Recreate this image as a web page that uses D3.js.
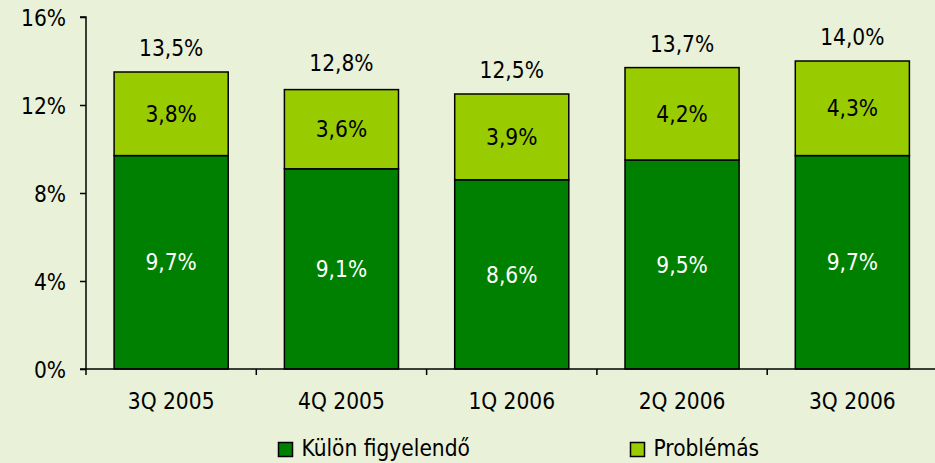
<!DOCTYPE html>
<html><head><meta charset="utf-8">
<script src="https://cdn.jsdelivr.net/npm/d3@7"></script>
<style>
html,body{margin:0;padding:0;background:#E9F1D8;}
svg{display:block;font-family:"DejaVu Sans Condensed","DejaVu Sans",sans-serif;}
</style></head><body>
<svg id="c" width="935" height="463"></svg>
<script>
const categories = ["3Q 2005","4Q 2005","1Q 2006","2Q 2006","3Q 2006"];
const kulon = [9.7, 9.1, 8.6, 9.5, 9.7];
const problemas = [3.8, 3.6, 3.9, 4.2, 4.3];
const totals = [13.5, 12.8, 12.5, 13.7, 14.0];
const yTicks = [0, 4, 8, 12, 16];
const seriesNames = ["Külön figyelendő", "Problémás"];
const colors = ["#008000", "#99CC00"];

(function(){
const FS = 22.5;
const svg = d3.select("#c");
const mLeft = 86, mRight = 937.5, mTop = 17, mBottom = 369;
const x = d3.scaleBand().domain(categories).range([mLeft, mRight]).paddingInner(0.33).paddingOuter(0.165);
const y = d3.scaleLinear().domain([0, 16]).range([mBottom, mTop]);
const fmt = v => v.toFixed(1).replace(".", ",") + "%";

const g = svg.append("g");
categories.forEach((c, i) => {
  const x0 = x(c), w = x.bandwidth();
  g.append("rect").attr("x", x0).attr("y", y(kulon[i])).attr("width", w)
    .attr("height", y(0) - y(kulon[i])).attr("fill", colors[0]).attr("stroke", "#000").attr("stroke-width", 1.5);
  g.append("rect").attr("x", x0).attr("y", y(kulon[i] + problemas[i])).attr("width", w)
    .attr("height", y(kulon[i]) - y(kulon[i] + problemas[i])).attr("fill", colors[1]).attr("stroke", "#000").attr("stroke-width", 1.5);
  const cx = x0 + w / 2;
  g.append("text").attr("x", cx).attr("y", (y(0) + y(kulon[i])) / 2).attr("dy", "0.36em")
    .attr("text-anchor", "middle").attr("font-size", FS).attr("fill", "#fff").text(fmt(kulon[i]));
  g.append("text").attr("x", cx).attr("y", (y(kulon[i]) + y(kulon[i] + problemas[i])) / 2).attr("dy", "0.36em")
    .attr("text-anchor", "middle").attr("font-size", FS).attr("fill", "#000").text(fmt(problemas[i]));
  g.append("text").attr("x", cx).attr("y", y(totals[i]) - 16)
    .attr("text-anchor", "middle").attr("font-size", FS).attr("fill", "#000").text(fmt(totals[i]));
});

const yAxis = d3.axisLeft(y).tickValues(yTicks).tickSize(6).tickPadding(14).tickFormat(d => d + "%");
const ya = svg.append("g").attr("transform", `translate(${mLeft},0)`).call(yAxis);
ya.attr("font-family", null);
ya.select(".domain").attr("stroke", "#000").attr("stroke-width", 1.5).attr("d", `M-6,${mTop}H0V${mBottom}H-6`);
ya.selectAll(".tick line").attr("stroke", "#000").attr("stroke-width", 1.5);
ya.selectAll(".tick text").attr("font-size", FS).attr("fill", "#000").attr("dy", "0.36em");

const xa = svg.append("g").attr("transform", `translate(0,${mBottom})`);
xa.append("line").attr("x1", mLeft).attr("x2", mRight).attr("stroke", "#000").attr("stroke-width", 1.5);
const step = x.step();
d3.range(categories.length + 1).forEach(k => {
  const xx = mLeft + k * step;
  xa.append("line").attr("x1", xx).attr("x2", xx).attr("y1", 0).attr("y2", 6).attr("stroke", "#000").attr("stroke-width", 1.5);
});
categories.forEach(c => {
  xa.append("text").attr("x", x(c) + x.bandwidth() / 2).attr("y", 40).attr("text-anchor", "middle")
    .attr("font-size", FS).attr("fill", "#000").text(c);
});

const legX = [278.5, 630.5];
seriesNames.forEach((n, i) => {
  svg.append("rect").attr("x", legX[i]).attr("y", 442.5).attr("width", 14).attr("height", 14)
    .attr("fill", colors[i]).attr("stroke", "#000").attr("stroke-width", 1.5);
  svg.append("text").attr("x", legX[i] + 23).attr("y", 456).attr("font-size", FS).attr("fill", "#000").text(n);
});
})();
</script>
</body></html>
